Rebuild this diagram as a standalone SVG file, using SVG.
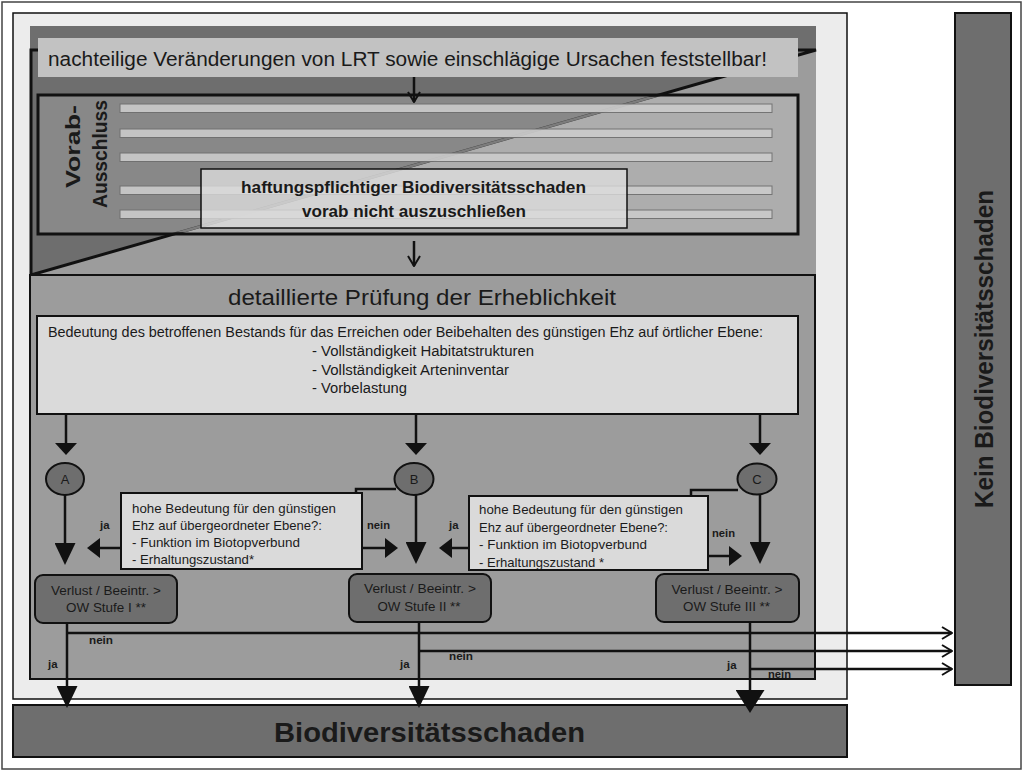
<svg xmlns="http://www.w3.org/2000/svg" width="1024" height="772" viewBox="0 0 1024 772">
<style>
.t{font-family:"Liberation Sans",Arial,sans-serif;fill:#1a1a1a}
.b{font-weight:bold}
.lab{font-family:"Liberation Sans",Arial,sans-serif;font-weight:bold;font-size:11.5px;fill:#1a1a1a}
.dark{fill:#6e6e6e;stroke:#111;stroke-width:2}
.panel{fill:#dadada;stroke:#111;stroke-width:2}
.stripe{fill:#cbcbcb;stroke:#6e6e6e;stroke-width:1;opacity:0.9}
.ln{fill:none;stroke:#111;stroke-width:2.5}
</style>
<defs>
<marker id="mid" markerUnits="userSpaceOnUse" viewBox="0 0 12 22" markerWidth="12" markerHeight="22" refX="0" refY="11" orient="auto"><path d="M0,0 L12,11 L0,22 z" fill="#111"/></marker>
<marker id="big" markerUnits="userSpaceOnUse" viewBox="0 0 22 21" markerWidth="22" markerHeight="21" refX="0" refY="10.5" orient="auto"><path d="M0,0 L22,10.5 L0,21 z" fill="#111"/></marker>
<marker id="side" markerUnits="userSpaceOnUse" viewBox="0 0 13 20" markerWidth="13" markerHeight="20" refX="0" refY="10" orient="auto"><path d="M0,0 L13,10 L0,20 z" fill="#111"/></marker>
<marker id="huge" markerUnits="userSpaceOnUse" viewBox="0 0 23 29" markerWidth="23" markerHeight="29" refX="0" refY="14.5" orient="auto"><path d="M0,0 L23,14.5 L0,29 z" fill="#111"/></marker>
<marker id="open" markerUnits="userSpaceOnUse" viewBox="-1 -1 12 14" markerWidth="12" markerHeight="14" refX="10" refY="6" orient="auto"><path d="M0,0 L10,6 L0,12" fill="none" stroke="#111" stroke-width="2"/></marker>
<clipPath id="vclip"><rect x="40" y="97" width="756" height="135"/></clipPath>
</defs>
<rect x="0" y="0" width="1024" height="772" fill="#ffffff"/>
<rect x="2" y="2" width="1019" height="767" fill="#ffffff" stroke="#444" stroke-width="1.5"/>

<g id="frame">
<rect x="13" y="13" width="834" height="686" fill="#ececec" stroke="#111" stroke-width="1.5"/>
</g>

<g id="top-region">
<rect x="30" y="26" width="786" height="249" fill="#9c9c9c"/>
<polygon points="30,26 816,26 816,50 31,275 30,275" fill="#6e6e6e"/>
<path d="M38,50 L31,50 L31,275 L816,50 L31,50" fill="none" stroke="#111" stroke-width="3"/>
</g>

<g id="header">
<rect x="38" y="38" width="760" height="39" fill="#c2c2c2"/>
<text class="t" x="48" y="66" font-size="19.5" textLength="719" lengthAdjust="spacingAndGlyphs">nachteilige Veränderungen von LRT sowie einschlägige Ursachen feststellbar!</text>
</g>

<g id="vorab">
<rect x="38" y="95" width="760" height="139" fill="#ffffff" fill-opacity="0.18" stroke="#111" stroke-width="3"/>
<line x1="31" y1="275" x2="816" y2="50" stroke="#7c7c7c" stroke-width="2.5" clip-path="url(#vclip)"/>
<rect class="stripe" x="120" y="104" width="652" height="8.5"/>
<rect class="stripe" x="120" y="129" width="652" height="8.5"/>
<rect class="stripe" x="120" y="153" width="652" height="8.5"/>
<rect class="stripe" x="120" y="186" width="652" height="8.5"/>
<rect class="stripe" x="120" y="210" width="652" height="8.5"/>
<text class="t b" transform="translate(80,146.5) rotate(-90)" font-size="21" text-anchor="middle" textLength="83" lengthAdjust="spacingAndGlyphs">Vorab-</text>
<text class="t b" transform="translate(107,154) rotate(-90)" font-size="21" text-anchor="middle" textLength="108" lengthAdjust="spacingAndGlyphs">Ausschluss</text>
</g>

<g id="haftung">
<rect x="201" y="169" width="426" height="59" fill="#dcdcdc" fill-opacity="0.8" stroke="#111" stroke-width="1.5"/>
<text class="t b" x="413.5" y="193" font-size="16.5" text-anchor="middle" textLength="345" lengthAdjust="spacingAndGlyphs">haftungspflichtiger Biodiversitätsschaden</text>
<text class="t b" x="414" y="217" font-size="16.5" text-anchor="middle" textLength="224" lengthAdjust="spacingAndGlyphs">vorab nicht auszuschließen</text>
</g>

<g id="pruefung">
<rect x="30" y="275" width="785" height="404" fill="#9c9c9c" stroke="#111" stroke-width="2"/>
<text class="t" x="228" y="305" font-size="22" textLength="388" lengthAdjust="spacingAndGlyphs">detaillierte Prüfung der Erheblichkeit</text>
</g>

<g id="bedeutung">
<rect class="panel" x="37" y="316" width="761" height="98"/>
<text class="t" x="48" y="337" font-size="14" textLength="715" lengthAdjust="spacingAndGlyphs">Bedeutung des betroffenen Bestands für das Erreichen oder Beibehalten des günstigen Ehz auf örtlicher Ebene:</text>
<text class="t" x="312" y="356" font-size="14" textLength="222" lengthAdjust="spacingAndGlyphs">- Vollständigkeit Habitatstrukturen</text>
<text class="t" x="312" y="375" font-size="14" textLength="197" lengthAdjust="spacingAndGlyphs">- Vollständigkeit Arteninventar</text>
<text class="t" x="312" y="393" font-size="14" textLength="95" lengthAdjust="spacingAndGlyphs">- Vorbelastung</text>
</g>

<g id="circle-a">
<ellipse class="dark" cx="65" cy="479" rx="19" ry="16"/>
<text class="t" x="65" y="484" font-size="13" text-anchor="middle">A</text>
</g>
<g id="circle-b">
<ellipse class="dark" cx="414" cy="479" rx="19.5" ry="16"/>
<text class="t" x="414" y="484" font-size="13" text-anchor="middle">B</text>
</g>
<g id="circle-c">
<ellipse class="dark" cx="757" cy="479" rx="19.5" ry="15.5"/>
<text class="t" x="757" y="484" font-size="13" text-anchor="middle">C</text>
</g>

<g id="frage-1">
<rect class="panel" x="121" y="493" width="241" height="76"/>
<text class="t" x="132" y="513" font-size="13.5" textLength="204" lengthAdjust="spacingAndGlyphs">hohe Bedeutung für den günstigen</text>
<text class="t" x="132" y="530" font-size="13.5" textLength="190" lengthAdjust="spacingAndGlyphs">Ehz auf übergeordneter Ebene?:</text>
<text class="t" x="132" y="547" font-size="13.5" textLength="168" lengthAdjust="spacingAndGlyphs">- Funktion im Biotopverbund</text>
<text class="t" x="132" y="564" font-size="13.5" textLength="122" lengthAdjust="spacingAndGlyphs">- Erhaltungszustand*</text>
</g>

<g id="frage-2">
<rect class="panel" x="469" y="496" width="239" height="74"/>
<text class="t" x="479" y="514" font-size="13.5" textLength="204" lengthAdjust="spacingAndGlyphs">hohe Bedeutung für den günstigen</text>
<text class="t" x="479" y="531.5" font-size="13.5" textLength="189" lengthAdjust="spacingAndGlyphs">Ehz auf übergeordneter Ebene?:</text>
<text class="t" x="479" y="549" font-size="13.5" textLength="168" lengthAdjust="spacingAndGlyphs">- Funktion im Biotopverbund</text>
<text class="t" x="479" y="566.5" font-size="13.5" textLength="125" lengthAdjust="spacingAndGlyphs">- Erhaltungszustand *</text>
</g>

<g id="stufe-1">
<rect class="dark" x="35" y="575" width="142" height="48" rx="8"/>
<text class="t" x="106" y="595" font-size="13" text-anchor="middle" textLength="110" lengthAdjust="spacingAndGlyphs">Verlust / Beeintr. &gt;</text>
<text class="t" x="106" y="612" font-size="13" text-anchor="middle" textLength="80" lengthAdjust="spacingAndGlyphs">OW Stufe I **</text>
</g>
<g id="stufe-2">
<rect class="dark" x="349" y="574" width="142" height="48" rx="8"/>
<text class="t" x="420" y="593" font-size="13" text-anchor="middle" textLength="112" lengthAdjust="spacingAndGlyphs">Verlust / Beeintr. &gt;</text>
<text class="t" x="419" y="611" font-size="13" text-anchor="middle" textLength="83" lengthAdjust="spacingAndGlyphs">OW Stufe II **</text>
</g>
<g id="stufe-3">
<rect class="dark" x="656" y="574" width="143" height="48" rx="8"/>
<text class="t" x="727" y="594" font-size="13" text-anchor="middle" textLength="111" lengthAdjust="spacingAndGlyphs">Verlust / Beeintr. &gt;</text>
<text class="t" x="726.5" y="611" font-size="13" text-anchor="middle" textLength="87" lengthAdjust="spacingAndGlyphs">OW Stufe III **</text>
</g>

<g id="biodiversitaetsschaden">
<rect class="dark" x="13" y="705" width="834" height="52"/>
<text class="t b" x="429.5" y="742" font-size="28" text-anchor="middle" textLength="311" lengthAdjust="spacingAndGlyphs">Biodiversitätsschaden</text>
</g>

<g id="kein-biodiversitaetsschaden">
<rect class="dark" x="955" y="13" width="56" height="672"/>
<text class="t b" transform="translate(993,349) rotate(-90)" font-size="25" text-anchor="middle" textLength="318" lengthAdjust="spacingAndGlyphs">Kein Biodiversitätsschaden</text>
</g>

<g id="connectors">
<line class="ln" x1="414" y1="77" x2="414" y2="102" marker-end="url(#open)"/>
<line class="ln" x1="414" y1="241" x2="414" y2="266" marker-end="url(#open)"/>
<line class="ln" x1="66" y1="414" x2="66" y2="443" marker-end="url(#mid)"/>
<line class="ln" x1="416" y1="414" x2="416" y2="443" marker-end="url(#mid)"/>
<line class="ln" x1="760" y1="414" x2="760" y2="443" marker-end="url(#mid)"/>
<line class="ln" x1="65" y1="495" x2="65" y2="543" marker-end="url(#big)"/>
<line class="ln" x1="416" y1="495" x2="416" y2="542" marker-end="url(#big)"/>
<line class="ln" x1="760" y1="494" x2="760" y2="542" marker-end="url(#big)"/>
<polyline class="ln" points="396,489 356,489 356,493"/>
<polyline class="ln" points="738,490 691,490 691,496"/>
<line class="ln" x1="121" y1="548" x2="100" y2="548" marker-end="url(#side)"/>
<line class="ln" x1="362" y1="548" x2="385" y2="548" marker-end="url(#side)"/>
<line class="ln" x1="469" y1="548" x2="452" y2="548" marker-end="url(#side)"/>
<line class="ln" x1="708" y1="556" x2="729" y2="556" marker-end="url(#side)"/>
<line class="ln" x1="67" y1="623" x2="67" y2="686" marker-end="url(#big)"/>
<line class="ln" x1="419" y1="622" x2="419" y2="686" marker-end="url(#big)"/>
<line class="ln" x1="750" y1="622" x2="750" y2="690" stroke-width="4.5" marker-end="url(#huge)"/>
<line class="ln" x1="67" y1="633" x2="952" y2="633" stroke-width="2" marker-end="url(#open)"/>
<line class="ln" x1="419" y1="651" x2="952" y2="651" stroke-width="2" marker-end="url(#open)"/>
<line class="ln" x1="750" y1="669" x2="952" y2="669" stroke-width="2" marker-end="url(#open)"/>
<text class="lab" x="100" y="529" textLength="9.5" lengthAdjust="spacingAndGlyphs">ja</text>
<text class="lab" x="367" y="529" textLength="23" lengthAdjust="spacingAndGlyphs">nein</text>
<text class="lab" x="449" y="529" textLength="9.5" lengthAdjust="spacingAndGlyphs">ja</text>
<text class="lab" x="712" y="537" textLength="23" lengthAdjust="spacingAndGlyphs">nein</text>
<text class="lab" x="89" y="644" textLength="24" lengthAdjust="spacingAndGlyphs">nein</text>
<text class="lab" x="48" y="668" textLength="9.5" lengthAdjust="spacingAndGlyphs">ja</text>
<text class="lab" x="400" y="668" textLength="9.5" lengthAdjust="spacingAndGlyphs">ja</text>
<text class="lab" x="449" y="660" textLength="24" lengthAdjust="spacingAndGlyphs">nein</text>
<text class="lab" x="727" y="669" textLength="9.5" lengthAdjust="spacingAndGlyphs">ja</text>
<text class="lab" x="768" y="678" textLength="23" lengthAdjust="spacingAndGlyphs">nein</text>
</g>
</svg>
